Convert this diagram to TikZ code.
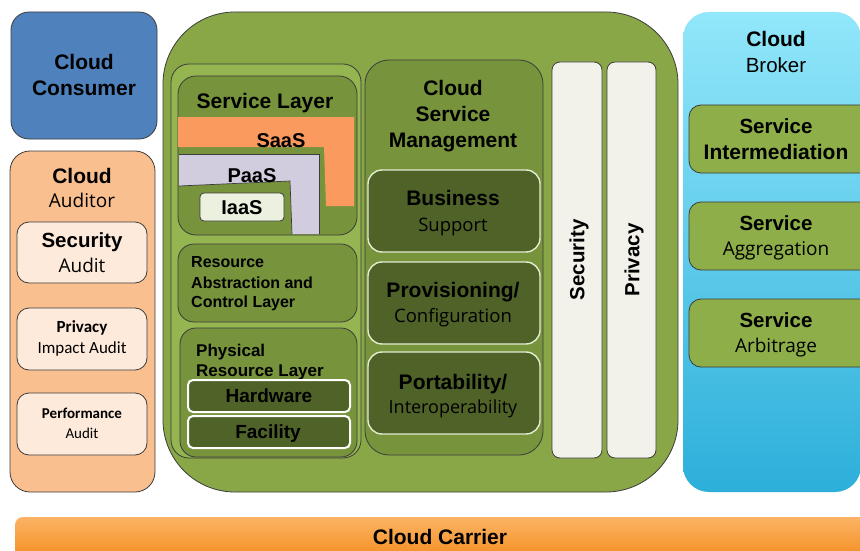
\documentclass[tikz,border=0pt]{standalone}
\usepackage{fontspec}
\setmainfont{Liberation Sans}
\newfontfamily\osans{Open Sans}
\newfontfamily\calib{Carlito}
\usetikzlibrary{shadings}

% palette
\definecolor{edge}{HTML}{3C3C3C}
\definecolor{consumerblue}{HTML}{4F81BD}
\definecolor{auditpeach}{HTML}{F9BF8F}
\definecolor{auditlight}{HTML}{FDEADA}
\definecolor{provgreen}{HTML}{89A747}
\definecolor{colgreen}{HTML}{94B550}
\definecolor{layergreen}{HTML}{77933C}
\definecolor{darkgreen}{HTML}{4F6228}
\definecolor{saas}{HTML}{FA9A5E}
\definecolor{paas}{HTML}{D2CCDF}
\definecolor{iaaslbl}{HTML}{EBF1DE}
\definecolor{barfill}{HTML}{F2F2EB}
\definecolor{brokertop}{HTML}{92E7FA}
\definecolor{brokerbot}{HTML}{2CAFDA}
\definecolor{brokerbox}{HTML}{8DAE48}
\definecolor{carriertop}{HTML}{FBB465}
\definecolor{carriermid}{HTML}{F7931F}
\definecolor{carrierbot}{HTML}{F38B1C}
\definecolor{softedge}{HTML}{E4ECD2}

% text styles: the node centre sits on the middle of the capitals
\tikzset{
  box/.style={draw=edge, line width=0.8pt, inner sep=0pt, outer sep=0pt, anchor=north west},
  hd/.code={\pgfmathsetmacro\hdcap{0.72*#1}%
    \tikzset{font=\fontsize{#1}{#1}\selectfont\bfseries, inner sep=0pt, text height=\hdcap pt, text depth=0pt}},
  hd/.default=21,
  rg/.code={\pgfmathsetmacro\rgcap{0.72*#1}%
    \tikzset{font=\fontsize{#1}{#1}\selectfont, inner sep=0pt, text height=\rgcap pt, text depth=0pt}},
  sub/.code={\pgfmathsetmacro\subcap{0.714*#1}%
    \tikzset{font=\osans\fontsize{#1}{#1}\selectfont, inner sep=0pt, text height=\subcap pt, text depth=0pt}},
  sub/.default=19,
  cal/.code={\pgfmathsetmacro\calcap{0.644*#1}%
    \tikzset{font=\calib\fontsize{#1}{#1}\selectfont, inner sep=0pt, text height=\calcap pt, text depth=0pt}},
  calb/.code={\pgfmathsetmacro\calbcap{0.644*#1}%
    \tikzset{font=\calib\fontsize{#1}{#1}\selectfont\bfseries, inner sep=0pt, text height=\calbcap pt, text depth=0pt}},
}

\begin{document}
\begin{tikzpicture}[x=1pt, y=-1pt]
\useasboundingbox (0,0) rectangle (860,551);
\clip (0,0) rectangle (860,551);

% ---------------- Cloud Consumer ----------------
\node[box, fill=consumerblue, rounded corners=18pt, minimum width=146pt, minimum height=127pt] (consumer) at (11,12) {};
\node[hd] (consumer1) at (84,62) {Cloud};
\node[hd] (consumer2) at (84,88) {Consumer};

% ---------------- Cloud Auditor ----------------
\node[box, fill=auditpeach, rounded corners=20pt, minimum width=145pt, minimum height=341pt] (auditor) at (10,151) {};
\node[hd] (auditor1) at (82,176) {Cloud};
\node[sub] (auditor2) at (82,201) {Auditor};

\node[box, fill=auditlight, rounded corners=12pt, minimum width=130pt, minimum height=61pt] (secaudit) at (17,222) {};
\node[hd=20.5] (secaudit1) at (82,240) {Security};
\node[sub] (secaudit2) at (82,266) {Audit};

\node[box, fill=auditlight, rounded corners=12pt, minimum width=130pt, minimum height=62pt] (privaudit) at (17,308) {};
\node[calb=17] (privaudit1) at (82,327) {Privacy};
\node[cal=17] (privaudit2) at (82,348) {Impact Audit};

\node[box, fill=auditlight, rounded corners=12pt, minimum width=130pt, minimum height=62pt] (perfaudit) at (17,393) {};
\node[calb=15] (perfaudit1) at (82,414) {Performance};
\node[cal=15] (perfaudit2) at (82,434) {Audit};

% ---------------- Cloud Provider ----------------
\node[box, fill=provgreen, rounded corners=72pt, minimum width=515pt, minimum height=480pt] (provider) at (163,12) {};

% service orchestration column
\node[box, fill=colgreen, rounded corners=18pt, minimum width=190pt, minimum height=394pt] (orch) at (171,64) {};

% service layer with the SaaS / PaaS / IaaS stack
\node[box, fill=layergreen, rounded corners=18pt, minimum width=179pt, minimum height=159pt] (svclayer) at (178,76) {};
\fill[saas] (178,117) -- (354,117) -- (354,206) -- (326,206) -- (324,147) -- (178,147) -- cycle;
\fill[paas] (179,154) -- (319,154) -- (319,234) -- (292,234) -- (290,181) -- (179,186) -- cycle;
\draw[edge, line width=0.7pt] (179,154) -- (319,154) -- (319,234);
\draw[edge, line width=0.7pt] (179,186) -- (290,181) -- (292,234);
\node[box, fill=iaaslbl, rounded corners=4pt, minimum width=84pt, minimum height=28pt] (iaasbox) at (200,193) {};
\node[hd] (svclayer1) at (265,101) {Service Layer};
\node[hd=20] (saastxt) at (281,140) {SaaS};
\node[hd=20] (paastxt) at (252,175) {PaaS};
\node[hd=20] (iaastxt) at (242,207) {IaaS};

% resource abstraction and control layer
\node[box, fill=layergreen, rounded corners=16pt, minimum width=179pt, minimum height=78pt] (ralayer) at (178,244) {};
\node[hd=16, anchor=west] (ralayer1) at (191,262) {Resource};
\node[hd=16, anchor=west] (ralayer2) at (191,283) {Abstraction and};
\node[hd=16, anchor=west] (ralayer3) at (191,302) {Control Layer};

% physical resource layer
\node[box, fill=layergreen, rounded corners=16pt, minimum width=177pt, minimum height=129pt] (phys) at (180,328) {};
\node[hd=17, anchor=west] (phys1) at (196,350) {Physical};
\node[hd=17, anchor=west] (phys2) at (196,370) {Resource Layer};
\node[box, draw=white, line width=2pt, fill=darkgreen, rounded corners=5pt, minimum width=162pt, minimum height=32pt] (hw) at (188,380) {};
\node[hd=19] (hwtxt) at (269,396) {Hardware};
\node[box, draw=white, line width=2pt, fill=darkgreen, rounded corners=5pt, minimum width=162pt, minimum height=32pt] (fac) at (188,416) {};
\node[hd=19] (factxt) at (268,432) {Facility};

% cloud service management column
\node[box, fill=layergreen, rounded corners=24pt, minimum width=178pt, minimum height=395pt] (csm) at (365,60) {};
\node[hd] (csm1) at (453,88) {Cloud};
\node[hd] (csm2) at (453,114) {Service};
\node[hd] (csm3) at (453,140) {Management};

\node[box, draw=softedge, line width=1.4pt, fill=darkgreen, rounded corners=14pt, minimum width=172pt, minimum height=82pt] (bss) at (368,170) {};
\node[hd] (bss1) at (453,198) {Business};
\node[sub=18.5] (bss2) at (453,225) {Support};

\node[box, draw=softedge, line width=1.4pt, fill=darkgreen, rounded corners=14pt, minimum width=172pt, minimum height=82pt] (prov) at (368,262) {};
\node[hd] (prov1) at (453,290) {Provisioning/};
\node[sub=18.5] (prov2) at (453,316) {Configuration};

\node[box, draw=softedge, line width=1.4pt, fill=darkgreen, rounded corners=14pt, minimum width=172pt, minimum height=82pt] (port) at (368,352) {};
\node[hd] (port1) at (453,382) {Portability/};
\node[sub=18] (port2) at (453,407) {Interoperability};

% security and privacy bars
\node[box, fill=barfill, rounded corners=8pt, minimum width=50pt, minimum height=396pt] (secbar) at (552,62) {};
\node[hd=20.5, rotate=90] (sectxt) at (577,260) {Security};
\node[box, fill=barfill, rounded corners=8pt, minimum width=49pt, minimum height=396pt] (privbar) at (607,62) {};
\node[hd=20.5, rotate=90] (privtxt) at (632,260) {Privacy};

% ---------------- Cloud Broker ----------------
\node[box, draw=none, top color=brokertop, bottom color=brokerbot, rounded corners=26pt, minimum width=178pt, minimum height=480pt] (broker) at (683,12) {};
\node[hd] (broker1) at (776,39) {Cloud};
\node[rg=20.5] (broker2) at (776,65) {Broker};

\node[box, fill=brokerbox, rounded corners=12pt, minimum width=190pt, minimum height=68pt] (interm) at (689,105) {};
\node[hd=20.5] (interm1) at (776,126) {Service};
\node[hd] (interm2) at (776,152) {Intermediation};

\node[box, fill=brokerbox, rounded corners=12pt, minimum width=190pt, minimum height=68pt] (aggr) at (689,202) {};
\node[hd=20.5] (aggr1) at (776,223) {Service};
\node[sub] (aggr2) at (776,249) {Aggregation};

\node[box, fill=brokerbox, rounded corners=12pt, minimum width=190pt, minimum height=68pt] (arbit) at (689,299) {};
\node[hd=20.5] (arbit1) at (776,320) {Service};
\node[sub] (arbit2) at (776,346) {Arbitrage};

% ---------------- Cloud Carrier ----------------
\node[box, draw=none, top color=carriertop, middle color=carriermid, bottom color=carrierbot, rounded corners=8pt, minimum width=870pt, minimum height=44pt] (carrier) at (15,517) {};
\node[hd] (carrier1) at (440,537) {Cloud Carrier};
\end{tikzpicture}
\end{document}
